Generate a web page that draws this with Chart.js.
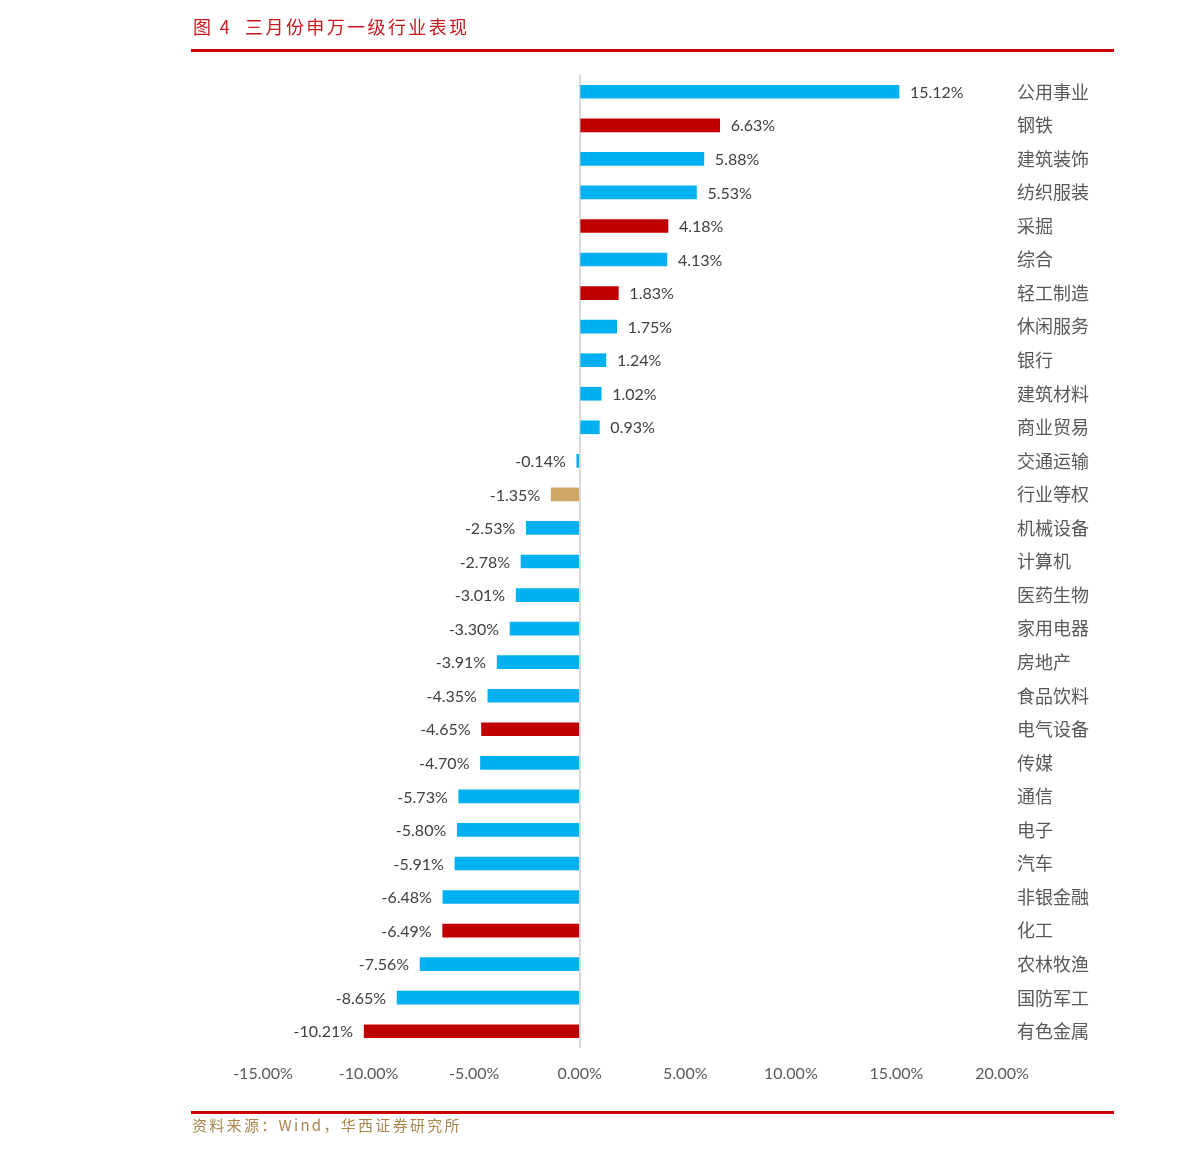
<!DOCTYPE html>
<html>
<head>
<meta charset="utf-8">
<script src="https://cdn.jsdelivr.net/npm/chart.js@4"></script>
<style>
  html, body { margin: 0; padding: 0; background: #fff; }
  #wrap { position: relative; width: 1191px; height: 1155px; }
</style>
</head>
<body>
<div id="wrap"><canvas id="industry-chart" width="1191" height="1155"></canvas></div>
<script>
// chart data
const industries = ["公用事业", "钢铁", "建筑装饰", "纺织服装", "采掘", "综合", "轻工制造", "休闲服务", "银行", "建筑材料",
    "商业贸易", "交通运输", "行业等权", "机械设备", "计算机", "医药生物", "家用电器", "房地产", "食品饮料", "电气设备",
    "传媒", "通信", "电子", "汽车", "非银金融", "化工", "农林牧渔", "国防军工", "有色金属"];
const marchReturns = [15.12, 6.63, 5.88, 5.53, 4.18, 4.13, 1.83, 1.75, 1.24, 1.02,
    0.93, -0.14, -1.35, -2.53, -2.78, -3.01, -3.30, -3.91, -4.35, -4.65,
    -4.70, -5.73, -5.80, -5.91, -6.48, -6.49, -7.56, -8.65, -10.21];
const axisTicks = [-15, -10, -5, 0, 5, 10, 15, 20];
const highlighted = ["钢铁", "采掘", "轻工制造", "电气设备", "化工", "有色金属"];
const benchmark = "行业等权";

const titleText = "图 4  三月份申万一级行业表现";
const sourceText = "资料来源：Wind，华西证券研究所";

const cjkFont = '"Noto Sans CJK SC", "Noto Sans", sans-serif';
const numFont = 'Lato, "Open Sans", sans-serif';

function barColor(name) {
    if (name === benchmark) return "#CDA664";
    if (highlighted.includes(name)) return "#C00000";
    return "#00B0F0";
}

// title, footer and the value labels
const decorPlugin = {
    id: "decor",
    beforeDraw(chart) {
        const c = chart.ctx;
        c.save();
        c.fillStyle = "#fff";
        c.fillRect(0, 0, chart.width, chart.height);
        c.fillStyle = "#CC0000";
        c.fillRect(191, 49, 923, 3);
        c.fillRect(191, 1111, 923, 3);
        c.font = "18px " + cjkFont;
        c.letterSpacing = "2.4px";
        c.textBaseline = "middle";
        c.fillStyle = "#C8161D";
        c.fillText(titleText, 193, 27);
        c.font = "15px " + cjkFont;
        c.letterSpacing = "2.3px";
        c.fillStyle = "#A8864E";
        c.fillText(sourceText, 192, 1125);
        c.restore();
    },
    afterDatasetsDraw(chart) {
        const c = chart.ctx;
        const meta = chart.getDatasetMeta(0);
        c.save();
        c.font = "16px " + numFont;
        c.fillStyle = "#404040";
        c.textBaseline = "middle";
        meta.data.forEach((bar, i) => {
            const v = marchReturns[i];
            const txt = v.toFixed(2) + "%";
            if (v >= 0) {
                c.textAlign = "left";
                c.fillText(txt, bar.x + 11, bar.y + 1);
            } else {
                c.textAlign = "right";
                c.fillText(txt, bar.x - 11, bar.y + 1);
            }
        });
        c.restore();
    }
};

let industryChart = new Chart(document.getElementById("industry-chart"), {
    type: "bar",
    data: {
        labels: industries,
        datasets: [{
            data: marchReturns,
            backgroundColor: industries.map(barColor),
            barThickness: 13,
            borderWidth: 0
        }]
    },
    options: {
        indexAxis: "y",
        responsive: false,
        animation: false,
        devicePixelRatio: 1,
        layout: {
            padding: { left: 263, right: 69, top: 75, bottom: 62 }
        },
        scales: {
            x: {
                min: axisTicks[0],
                max: axisTicks[axisTicks.length - 1],
                afterBuildTicks: (scale) => { scale.ticks = axisTicks.map(v => ({ value: v })); },
                afterFit: (scale) => { scale.height = 45; },
                border: { display: false },
                grid: {
                    drawTicks: false,
                    lineWidth: 2,
                    color: (ctx) => ctx.tick && ctx.tick.value === 0 ? "#D9D9D9" : "rgba(0,0,0,0)"
                },
                ticks: {
                    padding: 16,
                    color: "#595959",
                    font: { family: numFont, size: 16 },
                    callback: (v) => Number(v).toFixed(2) + "%"
                }
            },
            y: {
                position: "right",
                afterFit: (scale) => { scale.width = 120; },
                border: { display: false },
                grid: { display: false, drawTicks: false },
                ticks: {
                    padding: 15,
                    color: "#595959",
                    font: { family: cjkFont, size: 18 }
                }
            }
        },
        plugins: {
            legend: { display: false },
            tooltip: { enabled: false }
        }
    },
    plugins: [decorPlugin]
});
</script>
</body>
</html>
